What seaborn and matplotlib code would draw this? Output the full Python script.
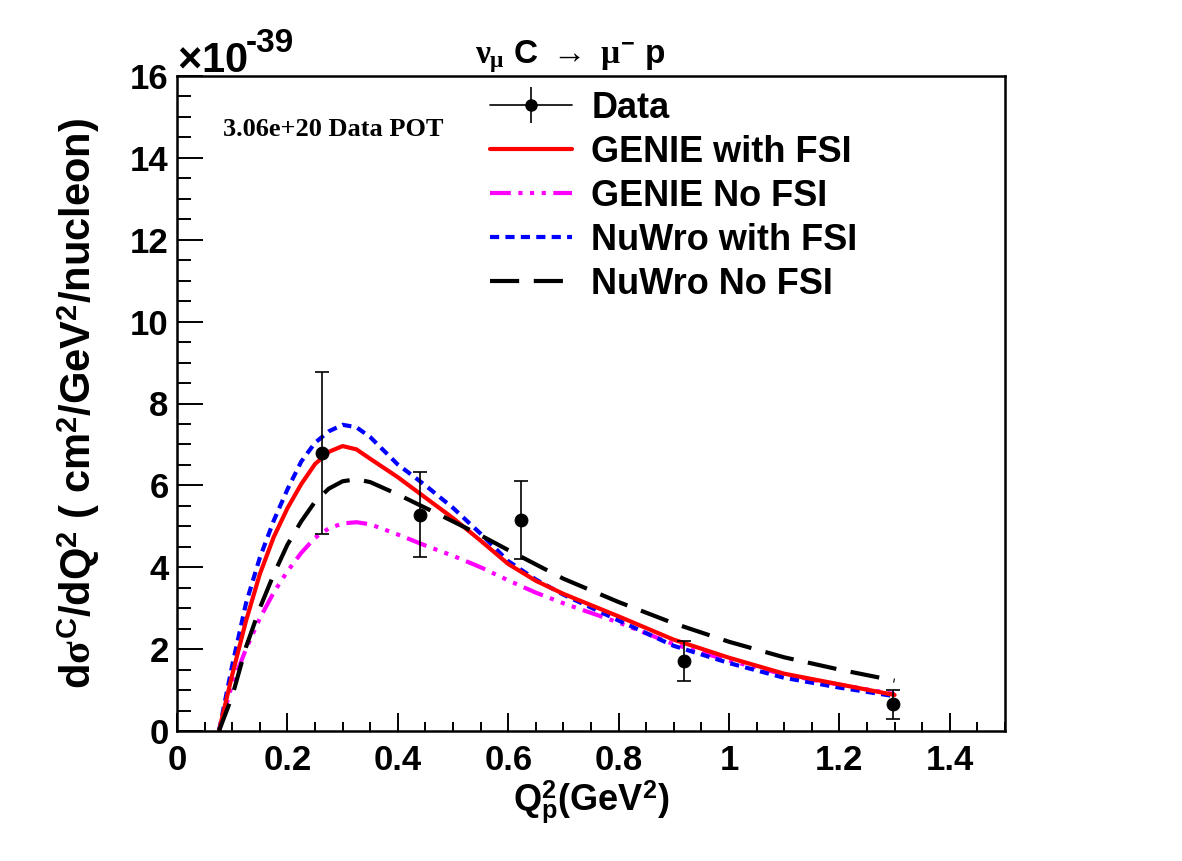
import matplotlib
matplotlib.use("Agg")
import matplotlib.pyplot as plt
import seaborn as sns
import pandas as pd
import numpy as np
from matplotlib.ticker import MultipleLocator, FuncFormatter

# Данные: точки измерения
q2_data = [0.263, 0.441, 0.623, 0.919, 1.297]
xsec_data = [6.80, 5.28, 5.16, 1.71, 0.65]
xsec_err = [1.98, 1.04, 0.95, 0.49, 0.36]

# Кривые моделей
q2_curve = [0.076, 0.1, 0.125, 0.15, 0.175, 0.2, 0.225, 0.25, 0.275, 0.3, 0.325,
            0.35, 0.4, 0.45, 0.5, 0.55, 0.6, 0.65, 0.7, 0.8, 0.9, 1.0, 1.1, 1.2, 1.3]
genie_fsi = [0, 1.37, 2.69, 3.83, 4.73, 5.44, 6.03, 6.52, 6.82, 6.96, 6.88,
             6.65, 6.2, 5.7, 5.2, 4.65, 4.08, 3.67, 3.35, 2.8, 2.23, 1.79, 1.40, 1.14, 0.88]
genie_nofsi = [0, 1.15, 2.0, 2.75, 3.38, 3.9, 4.35, 4.72, 4.95, 5.07, 5.1,
               5.05, 4.8, 4.53, 4.28, 4.0, 3.68, 3.38, 3.12, 2.65, 2.12, 1.72, 1.38, 1.13, 0.9]
nuwro_fsi = [0, 1.6, 3.12, 4.23, 5.13, 5.9, 6.58, 7.04, 7.32, 7.48, 7.42,
             7.18, 6.51, 6.0, 5.45, 4.82, 4.15, 3.70, 3.33, 2.70, 2.08, 1.66, 1.30, 1.06, 0.85]
nuwro_nofsi = [0, 0.85, 2.05, 3.0, 3.82, 4.55, 5.12, 5.6, 5.92, 6.1, 6.15,
               6.08, 5.78, 5.45, 5.12, 4.78, 4.42, 4.07, 3.72, 3.15, 2.63, 2.18, 1.80, 1.50, 1.23]

sns.set_style("white")
plt.rcParams['font.family'] = ['Liberation Sans', 'DejaVu Sans']
plt.rcParams['font.weight'] = 'bold'
plt.rcParams['text.color'] = 'black'
plt.rcParams['axes.labelcolor'] = 'black'
plt.rcParams['xtick.color'] = 'black'
plt.rcParams['ytick.color'] = 'black'
plt.rcParams['mathtext.fontset'] = 'custom'
plt.rcParams['mathtext.rm'] = 'Liberation Sans:bold'
plt.rcParams['mathtext.bf'] = 'Liberation Sans:bold'
plt.rcParams['mathtext.it'] = 'Liberation Serif'

fig = plt.figure(figsize=(11.82, 8.61), dpi=100)
ax = fig.add_axes([177 / 1182, 1 - 731 / 861, 828 / 1182, 655 / 861])

curves = [
    (genie_nofsi, '#ff00ff', (0, (5, 1.8, 1, 1.8, 1, 1.8, 1, 1.8)), 'GENIE No FSI'),
    (nuwro_fsi, '#0000ff', (0, (2.2, 1.5)), 'NuWro with FSI'),
    (genie_fsi, '#ff0000', '-', 'GENIE with FSI'),
    (nuwro_nofsi, 'black', (0, (7, 3.5)), 'NuWro No FSI'),
]
handles = {}
for values, color, ls, name in curves:
    df = pd.DataFrame({'q2': q2_curve, 'xsec': values})
    sns.lineplot(data=df, x='q2', y='xsec', ax=ax, color=color, linestyle=ls,
                 linewidth=3, label=name)
    handles[name] = ax.lines[-1]

# Данные с ошибками
ax.errorbar(q2_data, xsec_data, yerr=xsec_err, fmt='none', ecolor='black',
            elinewidth=1.2, capsize=5, capthick=1.2, zorder=5)
sns.scatterplot(x=q2_data, y=xsec_data, ax=ax, color='black', s=85,
                edgecolor='black', zorder=6, legend=False)
data_handle = ax.errorbar([np.nan], [np.nan], yerr=[np.nan], fmt='-o', color='black',
                          markersize=8, linewidth=1.2, elinewidth=1.2, capsize=0)

ax.set_xlim(0, 1.5)
ax.set_ylim(0, 16)
ax.xaxis.set_major_locator(MultipleLocator(0.2))
ax.xaxis.set_minor_locator(MultipleLocator(0.05))
ax.yaxis.set_major_locator(MultipleLocator(2))
ax.yaxis.set_minor_locator(MultipleLocator(0.5))
fmt = FuncFormatter(lambda v, p: f'{v:g}')
ax.xaxis.set_major_formatter(fmt)
ax.yaxis.set_major_formatter(fmt)
ax.tick_params(axis='both', which='both', direction='in', top=False, right=False,
               bottom=True, left=True, labelsize=25, width=1.4, color='black')
ax.tick_params(axis='y', which='major', length=19, pad=6)
ax.tick_params(axis='y', which='minor', length=10)
ax.tick_params(axis='x', which='major', length=13, pad=9)
ax.tick_params(axis='x', which='minor', length=6.5)
for sp in ax.spines.values():
    sp.set_visible(True)
    sp.set_color('black')
    sp.set_linewidth(1.8)

ax.set_xlabel(r'Q$_{\mathrm{p}}^{2}$(GeV$^{2}$)', fontsize=26, fontweight='bold')
ax.xaxis.set_label_coords(0.5, -0.072)
ax.set_ylabel(r'd$\sigma^{\mathrm{C}}$/dQ$^{2}$ ( cm$^{2}$/GeV$^{2}$/nucleon)',
              fontsize=30, fontweight='bold')
ax.yaxis.set_label_coords(-0.09, 0.5)

fig.text(570 / 1182, 1 - 57 / 861, r'$\nu_{\mu}$ C $\rightarrow$ $\mu^{\mathrm{-}}$ p',
         ha='center', va='center', fontsize=24, fontweight='bold')
fig.text(177 / 1182, 1 - 72 / 861, r'$\times$10', ha='left', va='baseline',
         fontsize=30, fontweight='bold')
fig.text(246 / 1182, 1 - 52 / 861, '-39', ha='left', va='baseline',
         fontsize=24, fontweight='bold')
fig.text(223 / 1182, 1 - 129 / 861, '3.06e+20 Data POT', ha='left', va='center',
         fontsize=19, fontweight='bold', family='Liberation Serif')

leg_handles = [data_handle, handles['GENIE with FSI'], handles['GENIE No FSI'],
               handles['NuWro with FSI'], handles['NuWro No FSI']]
leg_labels = ['Data', 'GENIE with FSI', 'GENIE No FSI', 'NuWro with FSI', 'NuWro No FSI']
ax.legend(leg_handles, leg_labels, loc='upper left',
          bbox_to_anchor=(490 / 1182, 1 - 91 / 861), bbox_transform=fig.transFigure,
          frameon=False, fontsize=26, borderpad=0, borderaxespad=0,
          handlelength=2.26, handletextpad=0.55, labelspacing=0.25)

fig.savefig('out.png', dpi=100)
